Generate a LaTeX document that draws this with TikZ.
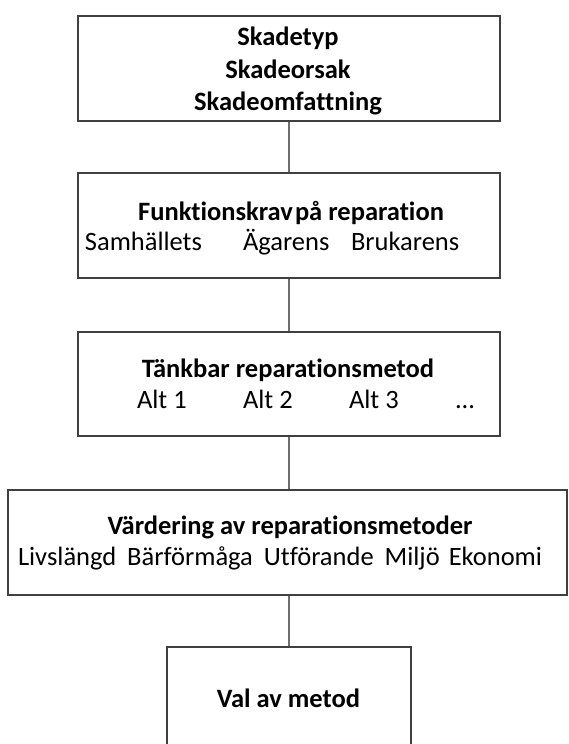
\documentclass[tikz,border=0pt]{standalone}
\usepackage{fontspec}
\setmainfont{Carlito}[Ligatures=NoCommon]
\definecolor{boxgray}{RGB}{64,64,64}
\definecolor{linegray}{RGB}{110,110,110}
\begin{document}
\begin{tikzpicture}[x=1pt,y=-1pt,
  box/.style={draw=boxgray, line width=1.6pt, inner sep=0pt, rectangle, fill=white},
  conn/.style={draw=linegray, line width=1.4pt},
  lbl/.style={inner sep=0pt, outer sep=0pt, font=\fontsize{26.5}{32.5}\selectfont, text=black},
  hd/.style={lbl, font=\fontsize{26.5}{32.5}\selectfont\bfseries, anchor=base},
]
\useasboundingbox[fill=white] (0,0) rectangle (568,744);

% boxes
\node[box, minimum width=422pt, minimum height=105pt] (b1) at (289,68.5) {};
\node[box, minimum width=422pt, minimum height=105pt] (b2) at (289,225.5) {};
\node[box, minimum width=422pt, minimum height=104pt] (b3) at (289,384) {};
\node[box, minimum width=559pt, minimum height=105pt] (b4) at (287.5,542.5) {};
\node[box, minimum width=244pt, minimum height=113pt] (b5) at (289,703.5) {};

% connectors
\draw[conn] (b1.south) -- (b2.north);
\draw[conn] (b2.south) -- (b3.north);
\draw[conn] (b3.south) -- (b3.south |- b4.north);
\draw[conn] (b3.south |- b4.south) -- (b3.south |- b5.north);

% box 1
\node[hd] (t1a) at (288,45) {Skadetyp};
\node[hd] (t1b) at (288,78) {Skadeorsak};
\node[hd] (t1c) at (288,110) {Skadeomfattning};

% box 2
\node[hd] (t2a) at (291,220) {Funktionskrav\hspace{0.08em}på reparation};
\node[lbl, anchor=base east] (t2b) at (202,250) {Samhällets};
\node[lbl, anchor=base west] (t2c) at (243,250) {Ägarens};
\node[lbl, anchor=base west] (t2d) at (351,250) {Brukarens};

% box 3
\node[hd] (t3a) at (288,377) {Tänkbar reparationsmetod};
\node[lbl, anchor=base west] (t3b) at (137,408) {Alt 1};
\node[lbl, anchor=base west] (t3c) at (243,408) {Alt 2};
\node[lbl, anchor=base west] (t3d) at (349,408) {Alt 3};
\node[lbl, anchor=base west] (t3e) at (455,408) {...};

% box 4
\node[hd] (t4a) at (290,534) {Värdering av reparationsmetoder};
\node[lbl, anchor=base west] (t4b) at (18,565) {Livslängd\hspace{11pt}Bärförmåga\hspace{11pt}Utförande\hspace{11pt}Miljö\hspace{9pt}Ekonomi};

% box 5
\node[hd] (t5a) at (288.5,707) {Val av metod};
\end{tikzpicture}
\end{document}
